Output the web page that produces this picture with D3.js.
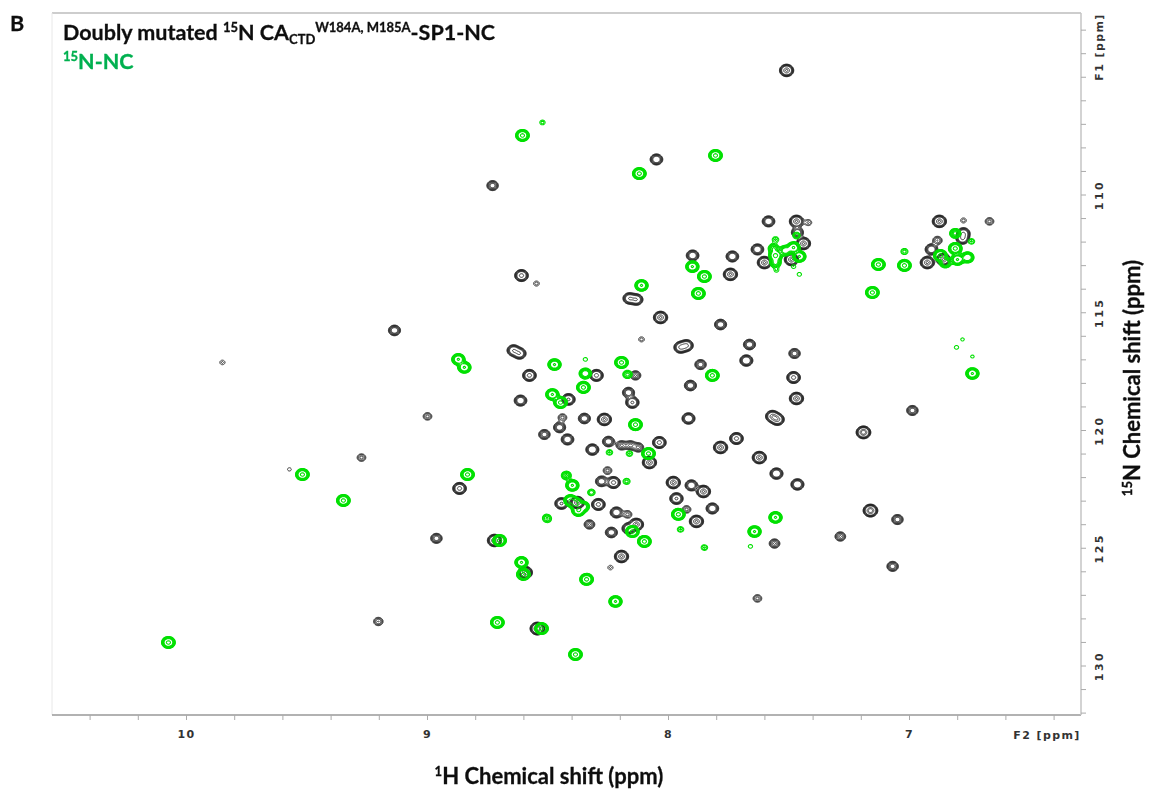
<!DOCTYPE html>
<html>
<head>
<meta charset="utf-8">
<script src="https://cdn.jsdelivr.net/npm/d3@7"></script>
<style>
	html, body { margin: 0; background: #fff; }
	svg { display: block; }
	text { fill: #111; }
	.title { font: bold 21.5px Lato, sans-serif; stroke: #111; stroke-width: 0.3px; }
	.green { fill: #00b050; stroke: #00b050; }
	.tick-label text, .small { font: bold 11px "DejaVu Sans", sans-serif; letter-spacing: 1.4px; fill: #333; }
	.axis-title { font: bold 22px Lato, sans-serif; stroke: #111; stroke-width: 0.3px; }
</style>
</head>
<body>
<svg id="chart" width="1158" height="796"></svg>
<script>
// peaks: [1H ppm, 15N ppm, peak height in contour units]
const mutantPeaks = [
	[7.51,104.71,12],[8.73,109.60,5],[8.05,108.49,7],[7.585,111.12,7],[7.469,111.12,12],[7.465,111.59,6],
	[7.44,112.06,12],[7.631,112.31,7],[7.735,112.61,7],[7.602,112.87,12],[7.49,112.74,12],[7.743,113.37,12],
	[7.42,111.17,1.8],[6.876,111.12,12],[6.776,111.63,8],[6.78,111.85,8],[6.909,112.31,7],[6.926,112.87,12],
	[6.859,112.74,12],[6.884,111.93,3],[6.668,111.12,2.5],[6.776,111.08,1.5],[7.90,112.57,7],[8.61,113.42,10],
	[8.548,113.76,1.5],[8.162,114.39,8],[8.133,114.44,8],[8.033,115.2,12],[7.784,115.5,6],[9.137,115.75,6],
	[8.112,116.13,1.5],[8.643,116.6,8],[8.618,116.73,8],[7.95,116.47,9],[7.925,116.39,9],[7.664,116.35,6],
	[7.677,117.03,8],[7.477,116.73,5],[7.481,117.75,10],[7.469,118.64,12],[7.867,117.2,5],[7.909,118.09,6],
	[8.577,117.66,10],[8.299,117.66,10],[8.137,117.66,4],[9.851,117.11,1.4],[8.614,118.73,7],[8.415,118.68,9],
	[8.166,118.39,6],[8.15,118.81,9],[9.0,119.4,2.5],[8.44,119.45,2.5],[8.452,119.87,6],[8.515,120.17,5],
	[8.419,120.38,7],[8.349,119.49,6],[8.266,119.53,12],[8.316,120.81,8],[8.249,120.47,6],[8.195,120.63,4],
	[8.158,120.63,4],[8.125,120.72,4],[8.038,120.51,10],[8.079,121.36,12],[7.917,119.49,8],[7.569,119.4,10],
	[7.548,119.53,10],[7.718,120.34,10],[7.784,120.72,12],[7.623,121.15,12],[7.552,121.83,8],[7.465,122.29,8],
	[7.191,120.08,14],[6.988,119.15,5],[9.274,121.15,2.5],[9.573,121.65,1.2],[8.867,122.46,10],[7.98,122.21,12],
	[7.905,122.33,7],[7.855,122.59,12],[7.967,122.89,9],[7.818,123.31,7],[7.925,123.35,2.5],[7.884,123.86,12],
	[7.56,124.8,4],[8.278,122.16,6],[8.228,122.21,10],[8.253,121.7,2.5],[8.444,123.1,9],[8.291,123.14,10],
	[8.378,123.06,12],[8.216,123.48,7],[8.17,123.56,2.5],[8.328,123.99,4],[8.237,124.33,6],[8.166,124.16,8],
	[8.133,123.99,12],[8.195,125.35,12],[8.241,125.82,1.4],[8.594,126.03,12],[8.963,124.58,5],[8.722,124.67,12],
	[9.204,128.11,3],[8.544,128.41,14],[7.287,124.5,4],[7.05,123.78,5],[7.162,123.4,14],[7.07,125.77,5],
	[7.631,127.13,2.5]
]

const ncPeaks = [
	[10.075,129.0,14],[9.519,121.87,14],[9.349,122.97,14],[8.834,121.87,14],[8.701,124.67,14],[8.71,128.15,14],
	[8.61,125.6,12],[8.602,126.11,14],[8.34,126.32,14],[8.22,127.26,12],[8.386,129.51,14],[8.527,128.41,14],
	[8.872,116.98,12],[8.847,117.32,12],[8.606,107.47,14],[8.523,106.92,1.5],[8.121,109.09,14],[7.805,108.32,14],
	[8.112,113.84,12],[7.876,114.18,14],[7.901,113.04,12],[7.851,113.46,14],[7.818,117.66,14],[6.739,117.58,12],
	[8.473,117.2,12],[8.345,117.58,9],[8.195,117.11,14],[8.17,117.62,3.5],[8.353,118.17,14],[8.482,118.47,12],
	[8.448,118.81,14],[8.137,119.75,14],[8.083,120.98,14],[8.245,120.93,1.8],[8.162,120.98,1.8],[8.424,121.91,4],
	[8.399,122.33,12],[8.174,122.16,2],[8.32,122.63,2.2],[8.386,123.1,14],[8.374,123.4,12],[8.407,122.97,12],
	[8.353,123.23,8],[8.506,123.69,1.8],[8.502,123.78,1.6],[7.959,123.56,14],[8.15,124.29,14],[8.1,124.71,14],
	[7.95,124.2,1.8],[7.851,124.97,1.8],[7.66,124.92,1.3],[7.643,124.29,12],[7.556,123.69,12],[8.345,116.98,1.3],
	[7.556,111.89,1.8],[7.469,111.72,2.2],[7.556,112.57,14],[7.564,112.27,5],[7.556,112.87,6],[7.481,112.23,12],
	[7.515,112.36,8],[7.457,112.61,12],[7.552,113.2,1.3],[7.481,113.04,1.3],[7.457,113.37,1.3],[7.129,112.95,14],
	[7.021,112.99,14],[7.021,112.4,2],[7.154,114.14,14],[6.872,112.57,14],[6.851,112.87,8],[6.81,111.63,6],
	[6.81,112.27,14],[6.801,112.74,12],[6.759,112.65,10],[6.743,111.97,1.8],[6.805,116.47,1.3],[6.78,116.13,1.2],
	[6.739,116.86,1.2]
]

const xTicks = d3.range(0, 21).map(i => 6.4 + i * 0.2)
const yTicks = d3.range(103, 133)
const xLabels = [7, 8, 9, 10]
const yLabels = [110, 115, 120, 125, 130]
const mutantLevels = [1, 1.3, 1.7, 2.2, 2.9, 3.7, 8, 11]
const ncLevels = [1, 1.3, 1.7, 2.2, 2.9, 3.7, 4.8, 11]

const plotLeft = 52, plotRight = 1081, plotTop = 13, plotBottom = 715
const w = plotRight - plotLeft, h = plotBottom - plotTop

// both axes run the NMR way, 1H decreasing to the right
const x = d3.scaleLinear().domain([10, 7]).range([186, 909])
const y = d3.scaleLinear().domain([110, 130]).range([194.5, 665.5])

const svg = d3.select('#chart')

const defs = svg.append('defs')
defs.append('filter').attr('id', 'soft').attr('filterUnits', 'userSpaceOnUse')
	.attr('x', 0).attr('y', 0).attr('width', w).attr('height', h)
	.append('feGaussianBlur').attr('stdDeviation', 0.7)
defs.append('filter').attr('id', 'softText').attr('filterUnits', 'userSpaceOnUse')
	.attr('x', 0).attr('y', 0).attr('width', 1158).attr('height', 796)
	.append('feGaussianBlur').attr('stdDeviation', 0.4)

// sum the peaks on a pixel grid, contours come from d3.contours like a real spectrum
function peakGrid(peaks, sx, sy) {
	const values = new Float64Array(w * h)
	peaks.forEach(([ppmH, ppmN, height]) => {
		const cx = x(ppmH) - plotLeft
		const cy = y(ppmN) - plotTop
		const x0 = Math.max(0, Math.floor(cx - sx * 4)), x1 = Math.min(w - 1, Math.ceil(cx + sx * 4))
		const y0 = Math.max(0, Math.floor(cy - sy * 4)), y1 = Math.min(h - 1, Math.ceil(cy + sy * 4))
		for (let j = y0; j <= y1; j++) {
			for (let i = x0; i <= x1; i++) {
				const dx = (i - cx) / sx, dy = (j - cy) / sy
				values[j * w + i] += height * Math.exp(-0.5 * (dx * dx + dy * dy))
			}
		}
	})
	return values
}

function drawSpectrum(peaks, levels, color, lineWidth, sx, sy) {
	const contours = d3.contours().size([w, h]).thresholds(levels)(peakGrid(peaks, sx, sy))
	const path = d3.geoPath()
	svg.append('g')
		.attr('transform', `translate(${plotLeft},${plotTop})`)
		.attr('filter', 'url(#soft)')
		.selectAll('path')
		.data(contours)
		.join('path')
		.attr('d', path)
		.attr('fill', 'none')
		.attr('stroke', color)
		.attr('stroke-width', lineWidth)
}

drawSpectrum(mutantPeaks, mutantLevels, '#111', 0.8, 3.2, 2.8)
drawSpectrum(ncPeaks, ncLevels, '#00e000', 1.05, 3, 2.6)

// frame
svg.append('line').attr('x1', plotLeft).attr('x2', plotRight).attr('y1', plotTop).attr('y2', plotTop)
	.attr('stroke', '#bdbdbd').attr('stroke-width', 1.5)
svg.append('line').attr('x1', plotLeft).attr('x2', plotLeft).attr('y1', plotTop).attr('y2', plotBottom)
	.attr('stroke', '#e8e8e8').attr('stroke-width', 1)

const xAxis = svg.append('g')
	.attr('class', 'tick-label')
	.attr('transform', `translate(0,${plotBottom})`)
	.call(d3.axisBottom(x).tickValues(xTicks).tickSize(5).tickPadding(10)
		.tickFormat(d => xLabels.some(v => Math.abs(v - d) < 1e-6) ? Math.round(d) : ''))
xAxis.select('.domain').attr('d', `M${plotLeft},0H${plotRight}`).attr('stroke', '#999').attr('stroke-width', 1.5)
xAxis.selectAll('.tick line').attr('stroke', '#aaa')

const yAxis = svg.append('g')
	.attr('class', 'tick-label')
	.attr('transform', `translate(${plotRight},0)`)
	.call(d3.axisRight(y).tickValues(yTicks).tickSize(5).tickPadding(8)
		.tickFormat(d => yLabels.includes(d) ? d : ''))
yAxis.select('.domain').attr('d', `M0,${plotTop}V${plotBottom}`).attr('stroke', '#c4c4c4').attr('stroke-width', 1.5)
yAxis.selectAll('.tick line').attr('stroke', '#aaa')
yAxis.selectAll('.tick text')
	.attr('x', 0).attr('y', 0).attr('dy', 0)
	.attr('text-anchor', 'middle')
	.style('letter-spacing', '2.5px')
	.attr('transform', 'translate(18,0) rotate(-90) translate(0,4)')

svg.append('text').attr('class', 'small').attr('text-anchor', 'middle')
	.attr('x', 1047).attr('y', 739).text('F2 [ppm]')
svg.append('text').attr('class', 'small').attr('text-anchor', 'middle')
	.attr('transform', 'translate(1103,47) rotate(-90)').text('F1 [ppm]')

// titles, the sub and superscripts are tspans
const labels = svg.append('g').attr('filter', 'url(#softText)')

labels.append('text').attr('x', 10).attr('y', 31).attr('class', 'title').text('B')

function rich(sel, parts) {
	parts.forEach(([str, shift, size]) => {
		const t = sel.append('tspan').text(str)
		if (shift) t.attr('baseline-shift', shift)
		if (size) t.style('font-size', size + 'px')
	})
	return sel
}

rich(labels.append('text').attr('class', 'title').attr('x', 63).attr('y', 40), [
	['Doubly mutated '],
	['15', 8, 13],
	['N CA'],
	['CTD', -4, 13],
	['W184A, M185A', 8, 13],
	['-SP1-NC']
])

rich(labels.append('text').attr('class', 'title green').attr('x', 63).attr('y', 69), [
	['15', 8, 13],
	['N-NC']
])

rich(labels.append('text').attr('class', 'axis-title').attr('text-anchor', 'middle')
	.attr('x', 549).attr('y', 784), [
	['1', 8, 13],
	['H Chemical shift (ppm)']
])

rich(labels.append('text').attr('class', 'axis-title').attr('text-anchor', 'middle')
	.attr('transform', 'translate(1140,378) rotate(-90)'), [
	['15', 8, 13],
	['N Chemical shift (ppm)']
])
</script>
</body>
</html>
